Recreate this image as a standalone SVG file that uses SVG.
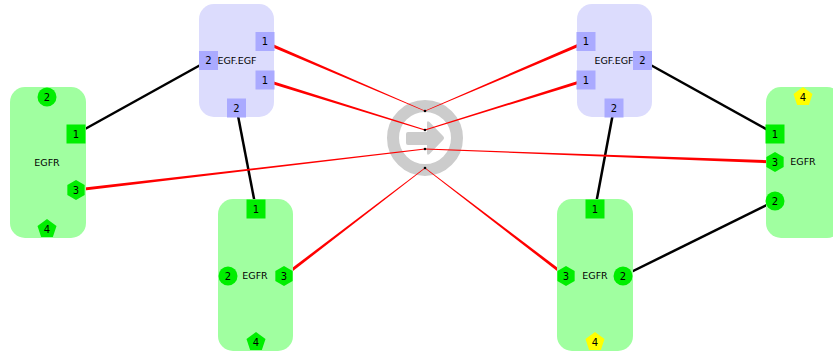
<svg xmlns="http://www.w3.org/2000/svg" xmlns:xlink="http://www.w3.org/1999/xlink" width="833" height="354" viewBox="0 0 833 354">
<style>
.body-g{fill:#a0ffa0}
.body-b{fill:#dcdcfd}
.pg{fill:#00ee00}
.pb{fill:#aaaaff}
.py{fill:#ffff00}
.lbl{font-family:"DejaVu Sans",Verdana,sans-serif;font-size:9.5px;fill:#000;text-anchor:middle}
.num{font-family:"DejaVu Sans",Verdana,sans-serif;font-size:10px;fill:#000;text-anchor:middle}
.bl{stroke:#000;stroke-width:2.5;fill:none}
.rd{fill:#ff0000}
.mech{fill:none;stroke:#cccccc;stroke-width:12}
</style>
<defs>
<rect id="sq" x="-9.5" y="-9.5" width="19" height="19"/>
<circle id="ci" r="9.5"/>
<polygon id="hx" points="0,-10 8.66,-5 8.66,5 0,10 -8.66,5 -8.66,-5"/>
<polygon id="pt" points="0,-10 9.51,-3.09 5.88,8.09 -5.88,8.09 -9.51,-3.09"/>
</defs>
<rect width="833" height="354" fill="#fff"/>
<g id="reaction">
<circle class="mech" cx="425" cy="138" r="32"/>
<path d="M408,132 H427 V123 Q427,120 429.5,122 L443,136 Q445,138 443,140 L429.5,154 Q427,156 427,153 V145 H408 Q406,145 406,143 V134 Q406,132 408,132 Z" fill="#cccccc"/>
</g>
<g id="connectors">
<line class="bl" x1="76" y1="134" x2="208.5" y2="60.5"/>
<line class="bl" x1="236.5" y1="108" x2="256" y2="209"/>
<line class="bl" x1="642.5" y1="60.5" x2="775" y2="134"/>
<line class="bl" x1="614" y1="108" x2="595" y2="209"/>
<line class="bl" x1="623" y1="276" x2="775" y2="201"/>
<polygon class="rd" points="263.41,43.38 424.84,111.37 425.16,110.63 264.59,40.62"/>
<polygon class="rd" points="263.56,81.43 424.88,130.38 425.12,129.62 264.44,78.57"/>
<polygon class="rd" points="76.18,191.49 425.05,149.40 424.95,148.60 75.82,188.51"/>
<polygon class="rd" points="284.91,277.20 425.24,168.32 424.76,167.68 283.09,274.80"/>
<polygon class="rd" points="585.41,40.62 424.84,110.63 425.16,111.37 586.59,43.38"/>
<polygon class="rd" points="585.56,78.57 424.88,129.62 425.12,130.38 586.44,81.43"/>
<polygon class="rd" points="775.06,160.50 425.02,148.60 424.98,149.40 774.94,163.50"/>
<polygon class="rd" points="566.91,274.80 425.24,167.68 424.76,168.32 565.09,277.20"/>
<circle cx="425" cy="111" r="1.3" fill="#000"/>
<circle cx="425" cy="130" r="1.3" fill="#000"/>
<circle cx="425" cy="149" r="1.3" fill="#000"/>
<circle cx="425" cy="168" r="1.3" fill="#000"/>
</g>
<g id="egfr-left">
<rect class="body-g" x="10" y="87" width="76" height="151" rx="15"/>
<text class="lbl" x="47" y="166">EGFR</text>
<use href="#ci" class="pg" x="47" y="97"/><text class="num" x="47" y="100.5">2</text>
<use href="#sq" class="pg" x="76" y="134"/><text class="num" x="76" y="137.5">1</text>
<use href="#hx" class="pg" x="76" y="190"/><text class="num" x="76" y="193.5">3</text>
<use href="#pt" class="pg" x="47" y="229"/><text class="num" x="47" y="233">4</text>
</g>
<g id="egfegf-left">
<rect class="body-b" x="199" y="4" width="75" height="113" rx="15"/>
<text class="lbl" x="237" y="64">EGF.EGF</text>
<use href="#sq" class="pb" x="265" y="41.5"/><text class="num" x="265" y="45">1</text>
<use href="#sq" class="pb" x="265" y="80"/><text class="num" x="265" y="83.5">1</text>
<use href="#sq" class="pb" x="208.5" y="60.5"/><text class="num" x="208.5" y="64">2</text>
<use href="#sq" class="pb" x="236.5" y="108"/><text class="num" x="236.5" y="111.5">2</text>
</g>
<g id="egfr-bottom-left">
<rect class="body-g" x="218" y="199" width="75" height="152" rx="15"/>
<text class="lbl" x="255" y="279">EGFR</text>
<use href="#sq" class="pg" x="256" y="209"/><text class="num" x="256" y="212.5">1</text>
<use href="#ci" class="pg" x="228" y="276"/><text class="num" x="228" y="279.5">2</text>
<use href="#hx" class="pg" x="284" y="276"/><text class="num" x="284" y="279.5">3</text>
<use href="#pt" class="pg" x="256" y="342"/><text class="num" x="256" y="346">4</text>
</g>
<g id="egfegf-right">
<rect class="body-b" x="577" y="4" width="75" height="113" rx="15"/>
<text class="lbl" x="614" y="64">EGF.EGF</text>
<use href="#sq" class="pb" x="586" y="41.5"/><text class="num" x="586" y="45">1</text>
<use href="#sq" class="pb" x="586" y="80"/><text class="num" x="586" y="83.5">1</text>
<use href="#sq" class="pb" x="642.5" y="60.5"/><text class="num" x="642.5" y="64">2</text>
<use href="#sq" class="pb" x="614" y="108"/><text class="num" x="614" y="111.5">2</text>
</g>
<g id="egfr-right">
<rect class="body-g" x="766" y="87" width="76" height="151" rx="15"/>
<text class="lbl" x="803" y="165">EGFR</text>
<use href="#pt" class="py" x="803" y="97"/><text class="num" x="803" y="101">4</text>
<use href="#sq" class="pg" x="775" y="134"/><text class="num" x="775" y="137.5">1</text>
<use href="#hx" class="pg" x="775" y="162"/><text class="num" x="775" y="165.5">3</text>
<use href="#ci" class="pg" x="775" y="201"/><text class="num" x="775" y="204.5">2</text>
</g>
<g id="egfr-bottom-right">
<rect class="body-g" x="557" y="199" width="76" height="152" rx="15"/>
<text class="lbl" x="595" y="279">EGFR</text>
<use href="#sq" class="pg" x="595" y="209"/><text class="num" x="595" y="212.5">1</text>
<use href="#hx" class="pg" x="566" y="276"/><text class="num" x="566" y="279.5">3</text>
<use href="#ci" class="pg" x="623" y="276"/><text class="num" x="623" y="279.5">2</text>
<use href="#pt" class="py" x="595" y="342"/><text class="num" x="595" y="346">4</text>
</g>
</svg>
